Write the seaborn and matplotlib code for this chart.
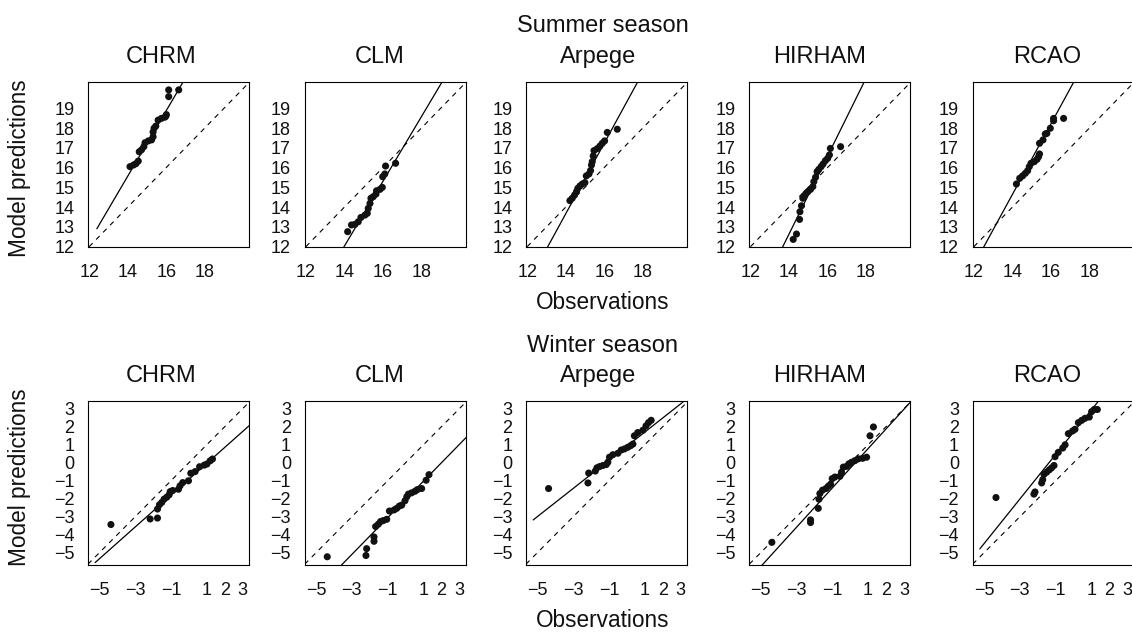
import matplotlib
matplotlib.use("Agg")
import matplotlib.pyplot as plt
import seaborn as sns
import pandas as pd
import numpy as np

models = ["CHRM", "CLM", "Arpege", "HIRHAM", "RCAO"]

# ---- Summer season: observations (x) vs model predictions (y) ----
summer_chrm_obs = [14.12, 14.30, 14.43, 14.55, 14.60, 14.72, 14.84, 14.90, 15.07, 15.24, 15.32,
                   15.32, 15.37, 15.46, 15.58, 15.75, 15.93, 15.98, 16.01, 16.13, 16.13, 16.65]
summer_chrm_pred = [16.05, 16.13, 16.20, 16.33, 16.80, 16.90, 17.06, 17.26, 17.35, 17.40, 17.56,
                    17.80, 17.99, 18.10, 18.40, 18.49, 18.55, 18.60, 18.68, 19.59, 19.93, 19.93]
summer_clm_obs = [14.17, 14.37, 14.55, 14.72, 14.86, 15.07, 15.19, 15.24, 15.33, 15.38, 15.50,
                  15.64, 15.67, 15.85, 15.97, 15.99, 16.10, 16.14, 16.66]
summer_clm_pred = [12.76, 13.10, 13.13, 13.26, 13.48, 13.60, 13.69, 13.94, 14.19, 14.45, 14.53,
                   14.66, 14.83, 14.90, 15.00, 15.54, 15.68, 16.08, 16.22]
summer_arpege_obs = [14.22, 14.34, 14.46, 14.56, 14.63, 14.74, 14.86, 15.00, 15.07, 15.21, 15.29,
                     15.34, 15.38, 15.43, 15.47, 15.64, 15.78, 15.90, 16.02, 16.16, 16.68]
summer_arpege_pred = [14.33, 14.45, 14.61, 14.78, 14.95, 15.07, 15.17, 15.24, 15.58, 15.68, 15.85,
                      16.13, 16.30, 16.59, 16.86, 16.96, 17.09, 17.23, 17.35, 17.78, 17.94]
summer_hirham_obs = [14.22, 14.39, 14.55, 14.57, 14.65, 14.72, 14.81, 14.89, 14.98, 15.12, 15.24,
                     15.29, 15.38, 15.46, 15.55, 15.67, 15.77, 15.89, 16.01, 16.10, 16.15, 16.68]
summer_hirham_pred = [12.37, 12.64, 13.38, 13.77, 14.07, 14.45, 14.58, 14.70, 14.78, 14.90, 15.04,
                      15.29, 15.51, 15.80, 15.91, 16.05, 16.18, 16.35, 16.47, 16.64, 16.97, 17.06]
summer_rcao_obs = [14.21, 14.38, 14.53, 14.67, 14.79, 14.88, 14.97, 15.14, 15.28, 15.36, 15.41,
                   15.41, 15.59, 15.71, 15.79, 15.97, 16.14, 16.14, 16.66]
summer_rcao_pred = [15.17, 15.46, 15.58, 15.71, 15.84, 16.05, 16.22, 16.30, 16.42, 16.55, 16.69,
                    17.23, 17.40, 17.70, 17.73, 17.99, 18.37, 18.49, 18.49]

# ---- Winter season ----
winter_chrm_obs = [-4.35, -2.16, -1.75, -1.75, -1.64, -1.51, -1.38, -1.23, -1.10, -1.04, -0.90,
                   -0.58, -0.49, -0.34, -0.02, 0.11, 0.35, 0.60, 0.86, 1.01, 1.19, 1.32]
winter_chrm_pred = [-3.43, -3.12, -3.07, -2.57, -2.33, -2.20, -2.02, -1.91, -1.78, -1.60, -1.54,
                    -1.47, -1.28, -1.10, -1.00, -0.58, -0.49, -0.22, -0.13, -0.07, 0.11, 0.21]
winter_clm_obs = [-4.37, -2.21, -2.17, -1.76, -1.76, -1.67, -1.52, -1.39, -1.24, -1.05, -0.90,
                  -0.64, -0.49, -0.34, -0.21, -0.03, 0.07, 0.16, 0.34, 0.53, 0.66, 0.90, 1.15, 1.31]
winter_clm_pred = [-5.22, -5.15, -4.77, -4.36, -4.12, -3.54, -3.41, -3.26, -3.21, -3.14, -2.68,
                   -2.62, -2.53, -2.40, -2.35, -2.11, -1.89, -1.74, -1.67, -1.58, -1.49, -1.43,
                   -0.97, -0.66]
winter_arpege_obs = [-4.37, -2.17, -2.13, -1.76, -1.67, -1.52, -1.34, -1.15, -1.06, -0.97, -0.78,
                     -0.50, -0.31, -0.13, 0.05, 0.21, 0.34, 0.42, 0.61, 0.90, 1.07, 1.21, 1.36]
winter_arpege_pred = [-1.43, -1.12, -0.57, -0.46, -0.28, -0.21, -0.15, -0.10, 0.03, 0.31, 0.45,
                      0.53, 0.71, 0.77, 0.86, 0.95, 1.04, 1.50, 1.68, 1.81, 2.05, 2.23, 2.36]
winter_hirham_obs = [-4.37, -2.21, -2.21, -1.78, -1.74, -1.69, -1.54, -1.35, -1.22, -1.09, -1.00,
                     -0.85, -0.57, -0.48, -0.38, -0.20, -0.07, 0.08, 0.27, 0.46, 0.70, 0.92, 1.11, 1.30]
winter_hirham_pred = [-4.42, -3.32, -3.17, -2.53, -2.02, -1.71, -1.52, -1.43, -1.30, -1.19, -0.88,
                      -0.79, -0.75, -0.52, -0.24, -0.20, -0.06, 0.03, 0.12, 0.22, 0.25, 0.31, 1.50, 1.99]
winter_rcao_obs = [-4.33, -2.21, -2.15, -1.78, -1.72, -1.65, -1.50, -1.35, -1.22, -1.09, -1.03,
                   -0.85, -0.60, -0.47, -0.29, -0.05, 0.08, 0.27, 0.46, 0.64, 0.88, 1.01, 1.15, 1.33]
winter_rcao_pred = [-1.93, -1.74, -1.62, -1.12, -0.94, -0.64, -0.52, -0.39, -0.28, -0.15, 0.34,
                    0.58, 0.82, 1.00, 1.62, 1.77, 1.86, 2.23, 2.36, 2.47, 2.54, 2.84, 2.96, 2.96]

# ---- fitted (solid) lines: slope and intercept per model ----
summer_fit_slope = [1.658, 1.637, 1.785, 1.971, 1.785]
summer_fit_intercept = [-7.65, -10.89, -11.33, -14.96, -10.35]
winter_fit_slope = [0.884, 1.018, 0.783, 1.093, 1.239]
winter_fit_intercept = [-0.918, -2.04, 0.92, -0.31, 1.70]
summer_fit_range = [12.4, 20.5]
winter_fit_range = [-5.23, 3.6]

# ---- axis ticks / labels ----
summer_ticks = [12, 13, 14, 15, 16, 17, 18, 19]
summer_xlabels = ["12", "", "14", "", "16", "", "18", ""]
summer_ylabels = ["12", "13", "14", "15", "16", "17", "18", "19"]
winter_ticks = [-5, -4, -3, -2, -1, 0, 1, 2, 3]
winter_xlabels = ["\u22125", "", "\u22123", "", "\u22121", "", "1", "2", "3"]
winter_ylabels = ["\u22125", "\u22124", "\u22123", "\u22122", "\u22121", "0", "1", "2", "3"]

summer_obs = [summer_chrm_obs, summer_clm_obs, summer_arpege_obs, summer_hirham_obs, summer_rcao_obs]
summer_pred = [summer_chrm_pred, summer_clm_pred, summer_arpege_pred, summer_hirham_pred, summer_rcao_pred]
winter_obs = [winter_chrm_obs, winter_clm_obs, winter_arpege_obs, winter_hirham_obs, winter_rcao_obs]
winter_pred = [winter_chrm_pred, winter_clm_pred, winter_arpege_pred, winter_hirham_pred, winter_rcao_pred]

rows = []
for season, obs_l, pred_l in [("Summer", summer_obs, summer_pred), ("Winter", winter_obs, winter_pred)]:
    for m, o, p in zip(models, obs_l, pred_l):
        for a, b in zip(o, p):
            rows.append({"season": season, "model": m, "obs": a, "pred": b})
df = pd.DataFrame(rows)

sns.set_theme(style="white")
plt.rcParams["font.family"] = ["Liberation Sans", "DejaVu Sans"]

W, H = 1132, 632
fig = plt.figure(figsize=(W / 100, H / 100), dpi=100)

col_left = [88, 304.7, 526, 749.3, 972.7]
col_w = 161
title_cx = [161, 379.5, 598, 820, 1046.7]

season_cfg = {
    "Summer": dict(top=82, bottom=246.7, xlim=(11.94, 20.3), ylim=(12.0, 20.33),
                   ticks=summer_ticks, xl=summer_xlabels, yl=summer_ylabels,
                   slope=summer_fit_slope, icpt=summer_fit_intercept, rng=summer_fit_range,
                   header_y=32, title_y=63.3, xlab_y=309, ylab_cy=168),
    "Winter": dict(top=400.5, bottom=564.5, xlim=(-5.63, 3.36), ylim=(-5.65, 3.46),
                   ticks=winter_ticks, xl=winter_xlabels, yl=winter_ylabels,
                   slope=winter_fit_slope, icpt=winter_fit_intercept, rng=winter_fit_range,
                   header_y=351.7, title_y=382, xlab_y=627, ylab_cy=477),
}

def fx(px):
    return px / W

def fy(py):
    return 1 - py / H

for season, cfg in season_cfg.items():
    for i, m in enumerate(models):
        ax = fig.add_axes([fx(col_left[i]), fy(cfg["bottom"]), col_w / W,
                           (cfg["bottom"] - cfg["top"]) / H])
        sub = df[(df.season == season) & (df.model == m)]
        # identity (dashed)
        ax.axline((0, 0), slope=1, color="black", lw=0.8, dashes=(4.5, 4.5), zorder=1)
        # fitted (solid)
        xs = np.array(cfg["rng"])
        ax.plot(xs, cfg["slope"][i] * xs + cfg["icpt"][i], color="black", lw=0.9, zorder=2)
        sns.scatterplot(data=sub, x="obs", y="pred", ax=ax, color="#111111", s=26,
                        edgecolor="none", linewidth=0, zorder=3, legend=False)
        ax.set_xlim(*cfg["xlim"])
        ax.set_ylim(*cfg["ylim"])
        ax.set_xticks(cfg["ticks"])
        ax.set_xticklabels(cfg["xl"])
        ax.set_yticks(cfg["ticks"])
        ax.set_yticklabels(cfg["yl"])
        ax.set_xlabel("")
        ax.set_ylabel("")
        ax.tick_params(axis="both", direction="out", length=5.4, width=0.8,
                       color="black", labelsize=13, labelcolor="#111111")
        ax.tick_params(axis="x", pad=7)
        ax.tick_params(axis="y", pad=4.5)
        for sp in ax.spines.values():
            sp.set_visible(True)
            sp.set_color("black")
            sp.set_linewidth(0.8)
        ax.set_facecolor("white")
        fig.text(fx(title_cx[i]), fy(cfg["title_y"]), m, ha="center", va="baseline",
                 fontsize=17, color="#111111")
    fig.text(fx(602.5), fy(cfg["header_y"]), f"{season} season", ha="center",
             va="baseline", fontsize=17, color="#111111")
    fig.text(fx(602.5), fy(cfg["xlab_y"]), "Observations", ha="center", va="baseline",
             fontsize=16.3, color="#111111")
    fig.text(fx(20), fy(cfg["ylab_cy"]), "Model predictions", ha="center", va="center",
             rotation=90, fontsize=16.3, color="#111111")

fig.savefig("out.png", dpi=100, facecolor="white")
